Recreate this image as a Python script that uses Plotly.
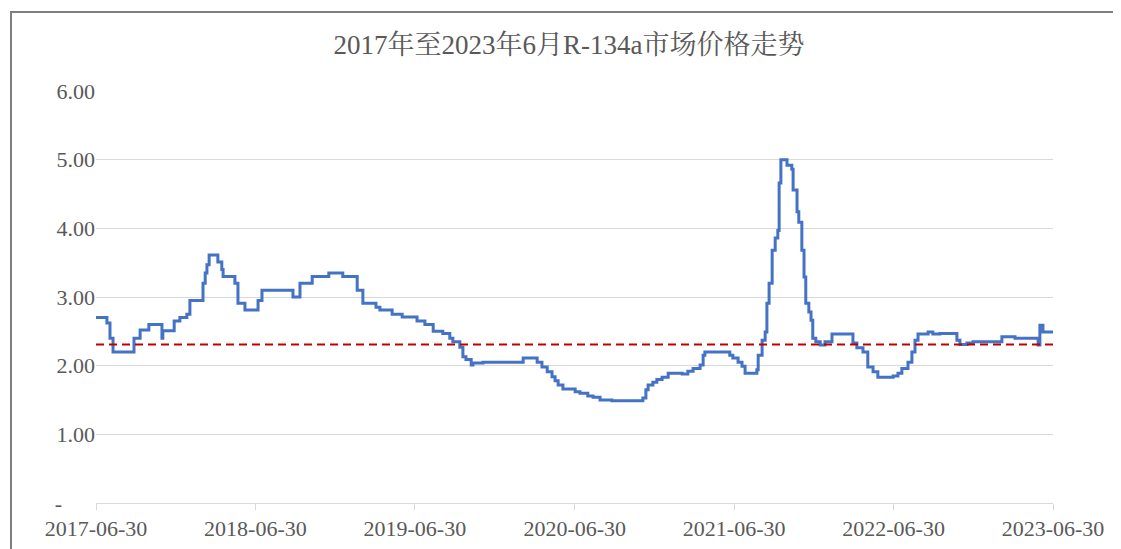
import plotly.graph_objects as go

dates = [
    "2017-06-30", "2017-07-25", "2017-08-01", "2017-08-08", "2017-09-25", "2017-10-09",
    "2017-10-29", "2017-11-28", "2017-11-30", "2017-12-26", "2018-01-08", "2018-01-24",
    "2018-01-31", "2018-03-02", "2018-03-07", "2018-03-11", "2018-03-16", "2018-04-05",
    "2018-04-14", "2018-04-17", "2018-05-14", "2018-05-21", "2018-06-06", "2018-07-06",
    "2018-07-15", "2018-09-24", "2018-10-10", "2018-11-07", "2018-12-15", "2019-01-16",
    "2019-02-18", "2019-03-03", "2019-04-02", "2019-04-11", "2019-05-09", "2019-06-01",
    "2019-07-05", "2019-07-23", "2019-08-11", "2019-09-02", "2019-09-18", "2019-09-25",
    "2019-10-11", "2019-10-18", "2019-10-25", "2019-11-06", "2019-11-10", "2019-12-03",
    "2020-03-04", "2020-04-05", "2020-04-16", "2020-04-28", "2020-05-09", "2020-05-16",
    "2020-05-23", "2020-06-03", "2020-07-01", "2020-07-12", "2020-07-30", "2020-08-11",
    "2020-08-27", "2020-09-23", "2020-12-03", "2020-12-10", "2020-12-15", "2020-12-26",
    "2021-01-04", "2021-01-16", "2021-01-30", "2021-03-03", "2021-03-16", "2021-03-28",
    "2021-04-13", "2021-04-20", "2021-04-24", "2021-06-20", "2021-06-27", "2021-07-09",
    "2021-07-18", "2021-07-25", "2021-08-21", "2021-08-24", "2021-09-02", "2021-09-09",
    "2021-09-13", "2021-09-18", "2021-09-25", "2021-10-02", "2021-10-08", "2021-10-11",
    "2021-10-15", "2021-10-29", "2021-11-09", "2021-11-12", "2021-11-21", "2021-11-25",
    "2021-12-02", "2021-12-07", "2021-12-11", "2021-12-18", "2021-12-23", "2021-12-27",
    "2022-01-03", "2022-01-13", "2022-01-24", "2022-02-09", "2022-03-29", "2022-04-07",
    "2022-04-21", "2022-05-02", "2022-05-14", "2022-05-25", "2022-06-29", "2022-07-10",
    "2022-07-19", "2022-08-02", "2022-08-11", "2022-08-18", "2022-08-25", "2022-09-17",
    "2022-09-28", "2022-10-14", "2022-11-22", "2022-11-29", "2022-12-15", "2022-12-29",
    "2023-03-05", "2023-04-04", "2023-05-27", "2023-05-31", "2023-06-07", "2023-06-30",
]

prices = [
    2.70, 2.62, 2.40, 2.20, 2.40, 2.52,
    2.60, 2.40, 2.51, 2.65, 2.70, 2.75,
    2.95, 3.20, 3.35, 3.47, 3.61, 3.51,
    3.40, 3.30, 3.20, 2.91, 2.81, 2.95,
    3.10, 3.00, 3.20, 3.30, 3.35, 3.30,
    3.10, 2.91, 2.85, 2.81, 2.75, 2.71,
    2.65, 2.60, 2.50, 2.47, 2.40, 2.35,
    2.27, 2.13, 2.09, 2.01, 2.04, 2.05,
    2.11, 2.05, 1.98, 1.91, 1.84, 1.78,
    1.72, 1.66, 1.62, 1.60, 1.56, 1.54,
    1.50, 1.49, 1.53, 1.65, 1.72, 1.76,
    1.80, 1.83, 1.89, 1.88, 1.92, 1.96,
    2.01, 2.15, 2.20, 2.15, 2.11, 2.05,
    1.99, 1.89, 1.94, 2.15, 2.37, 2.49,
    2.91, 3.20, 3.68, 3.86, 3.97, 4.66,
    5.00, 4.92, 4.86, 4.56, 4.24, 4.09,
    3.68, 3.29, 2.91, 2.78, 2.66, 2.40,
    2.35, 2.30, 2.35, 2.46, 2.33, 2.26,
    2.20, 1.98, 1.91, 1.83, 1.85, 1.89,
    1.96, 2.05, 2.20, 2.37, 2.46, 2.49,
    2.46, 2.47, 2.37, 2.31, 2.33, 2.35,
    2.42, 2.40, 2.30, 2.59, 2.49, 2.49,
]

average_price = 2.31

x_tick_vals = ["2017-06-30", "2018-06-30", "2019-06-30", "2020-06-30",
               "2021-06-30", "2022-06-30", "2023-06-30"]
y_tick_vals = [0, 1, 2, 3, 4, 5, 6]
y_tick_text = ["-" + "\u00a0" * 6, "1.00", "2.00", "3.00", "4.00", "5.00", "6.00"]

title_text = "2017年至2023年6月R-134a市场价格走势"

FONT = "Times New Roman, Liberation Serif, Noto Serif CJK SC, Noto Sans CJK SC, serif"
TXT = "#595959"
GRID = "#d9d9d9"

# page body has an 8px default margin; margins below compensate for it
OFF = 8
L, R, T, B = 96 - OFF, 1121 - 1053 + OFF, 91 - OFF, 549 - 503 + OFF

fig = go.Figure()
fig.add_trace(go.Scatter(
    x=dates, y=prices, mode="lines", line_shape="hv",
    line=dict(color="#4472C4", width=3), hoverinfo="x+y", showlegend=False,
))
fig.add_trace(go.Scatter(
    x=[x_tick_vals[0], x_tick_vals[-1]], y=[average_price, average_price],
    mode="lines", line=dict(color="#C00000", width=2, dash="8px,5px"),
    hoverinfo="skip", showlegend=False,
))

fig.update_layout(
    width=1121, height=549,
    margin=dict(l=L, r=R, t=T, b=B, autoexpand=False),
    paper_bgcolor="white", plot_bgcolor="white",
    font=dict(family=FONT, color=TXT, size=22),
    title=dict(text=title_text, x=(569 - OFF) / 1121, xref="container", xanchor="center",
               y=1 - (45 - OFF) / 549, yref="container", yanchor="middle",
               font=dict(family=FONT, size=27, color=TXT)),
    showlegend=False,
    shapes=[dict(type="rect", xref="paper", yref="paper",
                 x0=(11 - 96) / 957, x1=1.2, y0=-0.3, y1=(503 - 12) / 412,
                 line=dict(color="#7f7f7f", width=2), fillcolor="rgba(0,0,0,0)",
                 layer="above")],
)

fig.update_xaxes(
    type="date", range=[x_tick_vals[0], x_tick_vals[-1]],
    tickmode="array", tickvals=x_tick_vals, ticktext=x_tick_vals,
    showgrid=False, showline=True, linecolor=GRID, linewidth=1,
    ticks="outside", ticklen=6, tickcolor=GRID,
    tickfont=dict(family=FONT, size=22, color=TXT), zeroline=False,
)
fig.update_yaxes(
    range=[0, 6], tickmode="array", tickvals=y_tick_vals, ticktext=y_tick_text,
    showgrid=True, gridcolor=GRID, gridwidth=1, zeroline=False, showline=False,
    ticks="", tickfont=dict(family=FONT, size=22, color=TXT),
)

fig.write_html("out.html")
